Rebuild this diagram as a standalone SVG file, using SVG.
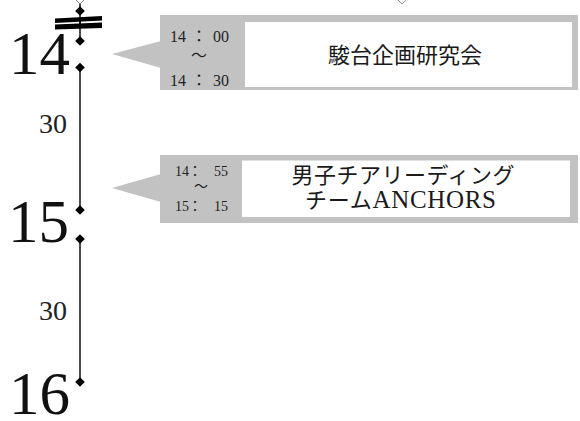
<svg xmlns="http://www.w3.org/2000/svg" width="580" height="421" viewBox="0 0 580 421">
<style>
.big{font-family:"Liberation Serif","Noto Sans CJK JP",serif;font-size:61px;fill:#111;text-anchor:end}
.mid{font-family:"Liberation Serif","Noto Sans CJK JP",serif;font-size:28px;fill:#222;text-anchor:end}
.tm{font-family:"Liberation Serif","Noto Sans CJK JP",serif;font-size:16px;fill:#222}
.tm2{font-family:"Liberation Serif","Noto Sans CJK JP",serif;font-size:14px;fill:#222}
.ev{font-family:"Liberation Serif","Noto Sans CJK JP",serif;font-size:22px;fill:#1a1a1a;text-anchor:middle}
.bar{fill:#c2c2c2}
.inner{fill:#fff}
.tl{stroke:#111;stroke-width:1.5;fill:none}
.dot{fill:#000}
.s{text-anchor:start}.m{text-anchor:middle}.e{text-anchor:end}
</style>
<defs>
<path id="dia" d="M0,-4.8 L4.8,0 L0,4.8 L-4.8,0 Z"/>
</defs>
<rect width="580" height="421" fill="#fff"/>
<g id="connectors">
<path class="tl" d="M80,0 V41 M80,67 V210 M80,239 V382"/>
</g>
<g id="timeline">
<path d="M80,-5 L84.5,-0.5 L80,4 L75.5,-0.5 Z" fill="#fff" stroke="#888" stroke-width="1"/>
<path d="M402,-5 L406.5,-0.5 L402,4 L397.5,-0.5 Z" fill="#fff" stroke="#999" stroke-width="1"/>
<use href="#dia" class="dot" x="80" y="11"/>
<polygon class="dot" points="55,18.5 102,16 102,20.5 55,23"/>
<polygon class="dot" points="55,24.5 102,22.5 102,28 55,29.5"/>
<line x1="80" y1="20.5" x2="80" y2="24.5" stroke="#000" stroke-width="1.5"/>
<use href="#dia" class="dot" x="80" y="41"/>
<use href="#dia" class="dot" x="80" y="67.5"/>
<use href="#dia" class="dot" x="80" y="210"/>
<use href="#dia" class="dot" x="80" y="239"/>
<use href="#dia" class="dot" x="80" y="382"/>
</g>
<g id="hour-14"><text class="big" x="70" y="74">14</text></g>
<g id="min-30-a"><text class="mid" x="67" y="133">30</text></g>
<g id="hour-15"><text class="big" x="69" y="242">15</text></g>
<g id="min-30-b"><text class="mid" x="67" y="320">30</text></g>
<g id="hour-16"><text class="big" x="70" y="414">16</text></g>
<g id="event-1">
<polygon class="bar" points="112,54 161,41 161,68"/>
<rect class="bar" x="160" y="15" width="418" height="75"/>
<rect class="inner" x="245" y="22" width="327" height="65"/>
<text class="tm s" x="170" y="41.5">14</text><text class="tm m" x="199" y="41.5">：</text><text class="tm e" x="229" y="41.5">00</text>
<text class="tm m" x="199" y="61">～</text>
<text class="tm s" x="170" y="86">14</text><text class="tm m" x="199" y="86">：</text><text class="tm e" x="229" y="86">30</text>
<text class="ev" x="405" y="63">駿台企画研究会</text>
</g>
<g id="event-2">
<polygon class="bar" points="112,188 161,174 161,202"/>
<rect class="bar" x="160" y="155" width="418" height="68"/>
<rect class="inner" x="242" y="160.5" width="328" height="56.5"/>
<text class="tm2 s" x="175" y="175.5">14</text><text class="tm2 m" x="195" y="175.5">：</text><text class="tm2 e" x="228" y="175.5">55</text>
<text class="tm2 m" x="201" y="191">～</text>
<text class="tm2 s" x="175" y="210.5">15</text><text class="tm2 m" x="195" y="210.5">：</text><text class="tm2 e" x="228" y="210.5">15</text>
<text class="ev" x="403" y="183" textLength="223" lengthAdjust="spacing">男子チアリーディング</text>
<text class="ev" x="400.5" y="208" textLength="191" lengthAdjust="spacing">チーム<tspan style="font-size:25px">ANCHORS</tspan></text>
</g>
</svg>
